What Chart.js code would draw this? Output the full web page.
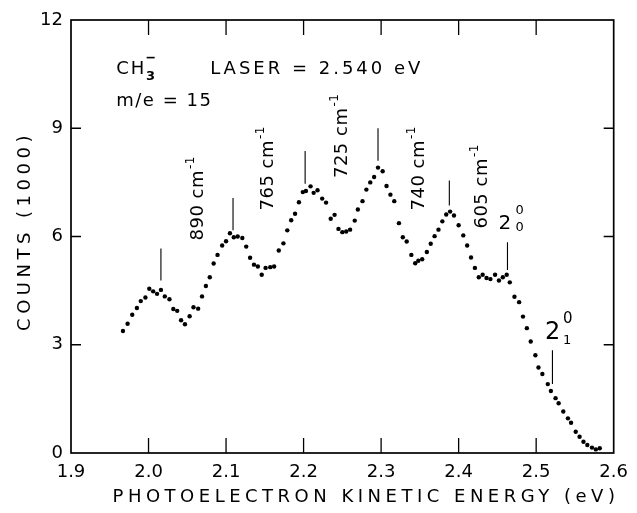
<!DOCTYPE html>
<html><head><meta charset="utf-8">
<script src="https://cdn.jsdelivr.net/npm/chart.js@4/dist/chart.umd.min.js"></script>
<style>html,body{margin:0;padding:0;background:#fff}#wrap{width:637px;height:513px}</style>
</head><body><div id="wrap"><canvas id="c" width="637" height="513"></canvas></div>
<script>
// Photoelectron kinetic energy (eV)
const energy = [
1.967,1.973,1.979,1.985,1.990,1.996,2.001,2.006,2.011,2.016,2.021,2.027,2.032,2.037,2.042,2.047,2.053,2.058,2.064,2.069,2.074,2.079,2.084,
2.089,2.095,2.100,2.105,2.110,2.115,2.121,2.126,2.131,2.136,2.141,2.146,2.151,2.157,2.162,2.168,2.174,2.179,2.184,2.189,2.194,
2.199,2.203,2.209,2.213,2.218,2.224,2.229,2.235,2.240,2.245,2.250,2.255,2.260,2.266,2.270,2.276,2.281,2.286,2.291,2.296,2.302,2.307,2.312,2.317,
2.323,2.328,2.333,2.339,2.344,2.348,2.353,2.359,2.364,2.369,2.374,2.379,2.384,2.389,2.394,2.400,2.406,2.411,2.416,2.421,2.426,
2.431,2.436,2.441,2.447,2.452,2.457,2.462,2.466,2.472,2.478,2.483,2.488,2.493,2.499,2.503,2.508,2.515,2.519,2.525,2.529,2.535,
2.541,2.545,2.551,2.556,2.561,2.566,2.572,2.577,2.582];
// Counts (thousands)
const counts = [
3.38,3.58,3.83,4.02,4.21,4.31,4.55,4.48,4.41,4.52,4.34,4.26,3.99,3.94,3.68,3.57,3.79,4.04,4.00,4.34,4.63,4.87,5.25,
5.49,5.75,5.87,6.09,5.98,6.00,5.96,5.72,5.41,5.22,5.17,4.94,5.13,5.15,5.17,5.61,5.81,6.17,6.45,6.63,6.95,
7.23,7.26,7.39,7.21,7.28,7.05,6.94,6.49,6.60,6.21,6.12,6.14,6.19,6.44,6.75,6.98,7.30,7.50,7.65,7.91,7.81,7.40,7.16,6.98,
6.37,5.98,5.86,5.49,5.26,5.33,5.37,5.57,5.80,6.01,6.19,6.42,6.61,6.69,6.58,6.31,6.03,5.75,5.42,5.13,4.87,
4.94,4.85,4.82,4.94,4.78,4.87,4.94,4.73,4.33,4.18,3.78,3.46,3.09,2.71,2.37,2.19,1.91,1.72,1.52,1.38,1.15,
0.96,0.84,0.59,0.45,0.31,0.22,0.15,0.10,0.13];
const xTickLabels = ['1.9','2.0','2.1','2.2','2.3','2.4','2.5','2.6'];
const yTickLabels = ['0','3','6','9','12'];
// vertical peak markers
const markerEnergy = [2.016, 2.109, 2.202, 2.296, 2.388, 2.463, 2.521];
const markerLow    = [4.78, 6.17, 7.46, 8.10, 6.86, 5.07, 1.91];
const markerHigh   = [5.67, 7.07, 8.37, 9.00, 7.55, 5.84, 2.85];
// spacing labels
const peakLabels = ['890', '765', '725', '740', '605'];
const xTitle = 'PHOTOELECTRON KINETIC ENERGY (eV)';
const yTitle = 'COUNTS (1000)';

const FONT = "'DejaVu Sans', sans-serif";

const deco = {
  id: 'deco',
  afterDraw(chart) {
    const {ctx, chartArea: a} = chart;
    const xs = chart.scales.x, ys = chart.scales.y;
    const X = v => xs.getPixelForValue(v), Y = v => ys.getPixelForValue(v);
    ctx.save();
    ctx.strokeStyle = '#000'; ctx.fillStyle = '#000';
    // frame
    ctx.lineWidth = 1.7;
    ctx.strokeRect(a.left, a.top, a.right - a.left, a.bottom - a.top);
    // inward ticks
    ctx.lineWidth = 1.3;
    ctx.beginPath();
    for (let i = 1; i < xTickLabels.length - 1; i++) {
      const px = X(parseFloat(xTickLabels[i]));
      ctx.moveTo(px, a.bottom); ctx.lineTo(px, a.bottom - 15);
      ctx.moveTo(px, a.top); ctx.lineTo(px, a.top + 15);
    }
    for (let i = 1; i < yTickLabels.length - 1; i++) {
      const py = Y(parseFloat(yTickLabels[i]));
      ctx.moveTo(a.left, py); ctx.lineTo(a.left + 10, py);
      ctx.moveTo(a.right, py); ctx.lineTo(a.right - 10, py);
    }
    ctx.stroke();
    // peak markers
    ctx.lineWidth = 1.1;
    ctx.beginPath();
    markerEnergy.forEach((e, i) => {
      ctx.moveTo(X(e), Y(markerLow[i])); ctx.lineTo(X(e), Y(markerHigh[i]));
    });
    ctx.stroke();
    // axis titles
    ctx.font = '18px ' + FONT;
    ctx.letterSpacing = '4.5px';
    ctx.textAlign = 'center'; ctx.textBaseline = 'middle';
    ctx.fillText(xTitle, 366, 497);
    ctx.save();
    ctx.translate(25, 233); ctx.rotate(-Math.PI / 2);
    ctx.fillText(yTitle, 2, 0);
    ctx.restore();
    // texts
    ctx.textBaseline = 'alphabetic'; ctx.textAlign = 'left';
    ctx.letterSpacing = '2px';
    ctx.font = '18px ' + FONT;
    ctx.fillText('CH', X(1.9584), Y(10.5));
    ctx.font = 'bold 13px ' + FONT;
    ctx.fillText('3', X(1.9966), Y(10.35));
    ctx.fillRect(X(1.9976), Y(10.98), 8, 1.6);
    ctx.font = '18px ' + FONT;
    ctx.letterSpacing = '3px';
    ctx.fillText('LASER = 2.540 eV', X(2.0795), Y(10.5));
    ctx.letterSpacing = '1.5px';
    ctx.fillText('m/e = 15', X(1.9584), Y(9.62));
    // rotated spacing labels
    const rot = [[2.0702, 5.89], [2.1609, 6.72], [2.2565, 7.62], [2.3559, 6.72], [2.4366, 6.22]];
    peakLabels.forEach((t, i) => {
      ctx.save();
      ctx.translate(X(rot[i][0]), Y(rot[i][1]));
      ctx.rotate(-Math.PI / 2);
      ctx.font = '18px ' + FONT;
      ctx.letterSpacing = '0.5px';
      const main = t + ' cm';
      ctx.fillText(main, 0, 0);
      const w = ctx.measureText(main).width;
      ctx.font = '12px ' + FONT;
      ctx.fillText('-1', w + 1, -9);
      ctx.restore();
    });
    // 2 0 0
    ctx.letterSpacing = '0px';
    ctx.font = '20px ' + FONT;
    ctx.fillText('2', X(2.4515), Y(6.22));
    ctx.font = '13px ' + FONT;
    ctx.fillText('0', X(2.4733), Y(6.63));
    ctx.fillText('0', X(2.4733), Y(6.15));
    // 2 1 0
    ctx.font = '24px ' + FONT;
    ctx.fillText('2', X(2.5115), Y(3.17));
    ctx.font = '15px ' + FONT;
    ctx.fillText('0', X(2.5345), Y(3.60));
    ctx.font = '13px ' + FONT;
    ctx.fillText('1', X(2.5345), Y(3.02));
    ctx.restore();
  }
};

new Chart(document.getElementById('c'), {
  type: 'scatter',
  data: {
    datasets: [{
      data: energy.map((e, i) => ({x: e, y: counts[i]})),
      showLine: false,
      pointRadius: 2.2,
      pointHoverRadius: 2.2,
      backgroundColor: '#000',
      borderWidth: 0
    }]
  },
  options: {
    responsive: false,
    devicePixelRatio: 1,
    animation: false,
    events: [],
    layout: {padding: {top: 20, right: 4, left: 0, bottom: 0}},
    plugins: {legend: {display: false}, tooltip: {enabled: false}},
    scales: {
      x: {
        type: 'linear', min: 1.9, max: 2.6,
        afterFit: s => { s.height = 60; },
        afterBuildTicks: s => { s.ticks = xTickLabels.map(t => ({value: parseFloat(t)})); },
        ticks: {
          callback: (v, i) => xTickLabels[i],
          color: '#000', font: {family: FONT, size: 18}, padding: 9,
          maxRotation: 0, autoSkip: false
        },
        grid: {display: false, drawTicks: false},
        border: {display: false}
      },
      y: {
        min: 0, max: 12,
        afterFit: s => { s.width = 71; },
        afterBuildTicks: s => { s.ticks = yTickLabels.map(t => ({value: parseFloat(t)})); },
        ticks: {
          callback: (v, i) => yTickLabels[i],
          color: '#000', font: {family: FONT, size: 18}, padding: 8, autoSkip: false
        },
        grid: {display: false, drawTicks: false},
        border: {display: false}
      }
    }
  },
  plugins: [deco]
});
</script></body></html>
